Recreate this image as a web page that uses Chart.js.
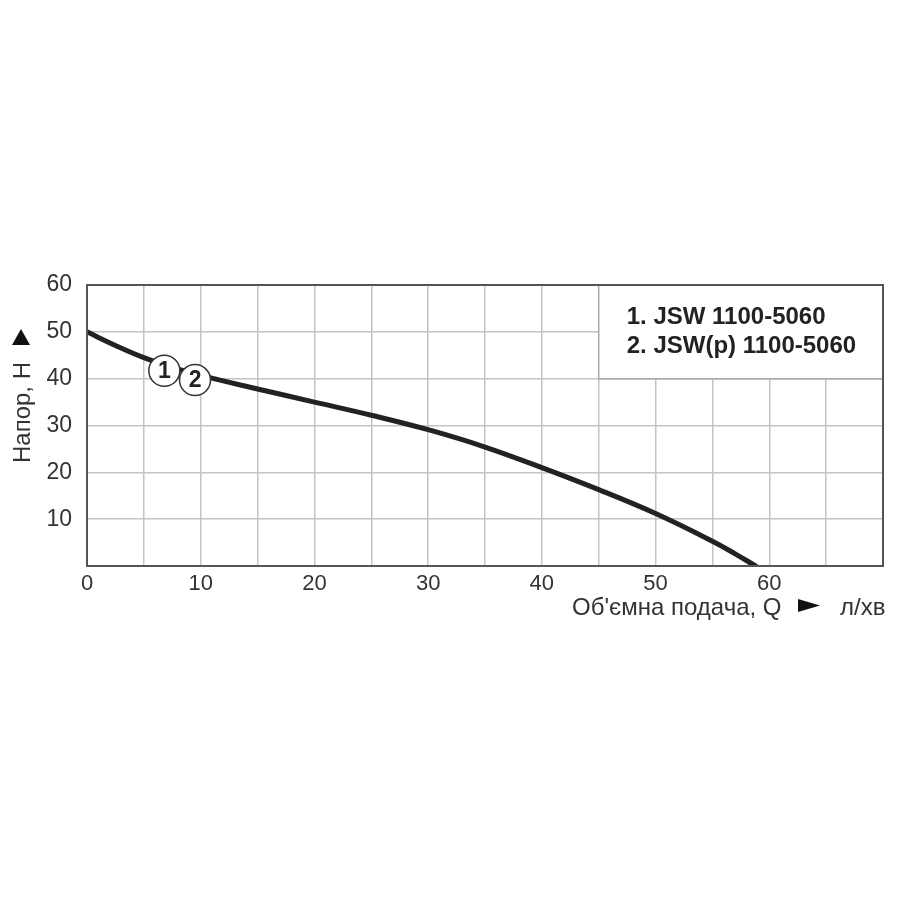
<!DOCTYPE html>
<html>
<head>
<meta charset="utf-8">
<script src="https://cdn.jsdelivr.net/npm/chart.js@4.4.0/dist/chart.umd.min.js"></script>
<style>
html,body{margin:0;padding:0;background:#fff;}
#wrap{width:900px;height:900px;position:relative;}
</style>
</head>
<body>
<div id="wrap"><canvas id="c" width="900" height="900"></canvas></div>
<script>
// ---- data ----
const flowQ = [0, 2.5, 5, 7.5, 10, 15, 20, 25, 30, 35, 40, 45, 50, 55, 57, 58.8];
const headH = [50, 47.1, 44.5, 42.4, 40.7, 37.8, 35, 32.2, 29.1, 25.4, 21.0, 16.3, 11.2, 5.3, 2.6, 0];
const markerQ = [6.8, 9.5];
const markerH = [41.7, 39.7];
const markerLabels = ['1', '2'];
const legendLines = ['1. JSW 1100-5060', '2. JSW(p) 1100-5060'];
const xTickLabels = [0, 10, 20, 30, 40, 50, 60];
const yTickLabels = [10, 20, 30, 40, 50, 60];
const yTitle = 'Напор, Н';
const xTitle = "Об'ємна подача, Q";
const xUnit = 'л/хв';
const legendBoxQ = [45, 70];
const legendBoxH = [40, 60];

const FONT = '"Liberation Sans", Arial, "DejaVu Sans", sans-serif';
const TXT = '#333333';

const overlay = {
  id: 'overlay',
  beforeDatasetsDraw(chart) {
    const {ctx, scales: {x, y}} = chart;
    const x0 = x.getPixelForValue(legendBoxQ[0]), x1 = x.getPixelForValue(legendBoxQ[1]);
    const y0 = y.getPixelForValue(legendBoxH[1]), y1 = y.getPixelForValue(legendBoxH[0]);
    ctx.save();
    ctx.fillStyle = '#ffffff';
    ctx.fillRect(x0, y0, x1 - x0, y1 - y0);
    ctx.strokeStyle = '#a8a8a8';
    ctx.lineWidth = 1.5;
    ctx.beginPath();
    ctx.moveTo(x0, y0); ctx.lineTo(x0, y1); ctx.lineTo(x1, y1);
    ctx.stroke();
    ctx.fillStyle = '#222222';
    ctx.font = 'bold 24px ' + FONT;
    ctx.textAlign = 'left';
    ctx.textBaseline = 'middle';
    legendLines.forEach((t, i) => ctx.fillText(t, x0 + 28, y0 + 32 + i * 29));
    ctx.restore();
  },
  afterDatasetsDraw(chart) {
    const {ctx, scales: {x, y}} = chart;
    ctx.save();
    ctx.fillStyle = '#222222';
    ctx.font = 'bold 23px ' + FONT;
    ctx.textAlign = 'center';
    ctx.textBaseline = 'middle';
    markerLabels.forEach((t, i) => {
      ctx.fillText(t, x.getPixelForValue(markerQ[i]), y.getPixelForValue(markerH[i]) + 1);
    });
    ctx.restore();
  },
  afterDraw(chart) {
    const {ctx, chartArea: a} = chart;
    ctx.save();
    // frame
    ctx.strokeStyle = '#555555';
    ctx.lineWidth = 2;
    ctx.strokeRect(a.left, a.top, a.right - a.left, a.bottom - a.top);
    // y title
    ctx.fillStyle = TXT;
    ctx.font = '24px ' + FONT;
    ctx.save();
    ctx.translate(a.left - 57, a.bottom - 103);
    ctx.rotate(-Math.PI / 2);
    ctx.textAlign = 'left';
    ctx.textBaseline = 'alphabetic';
    ctx.fillText(yTitle, 0, 0);
    ctx.restore();
    ctx.fillStyle = '#111111';
    ctx.beginPath();
    ctx.moveTo(a.left - 75, a.bottom - 221);
    ctx.lineTo(a.left - 57, a.bottom - 221);
    ctx.lineTo(a.left - 66, a.bottom - 237);
    ctx.closePath();
    ctx.fill();
    // x title
    ctx.fillStyle = TXT;
    ctx.font = '24px ' + FONT;
    ctx.textAlign = 'left';
    ctx.textBaseline = 'alphabetic';
    ctx.fillText(xTitle, 572, a.bottom + 49);
    ctx.fillText(xUnit, 840, a.bottom + 49);
    ctx.fillStyle = '#111111';
    ctx.beginPath();
    ctx.moveTo(798, a.bottom + 33); ctx.lineTo(798, a.bottom + 46); ctx.lineTo(820, a.bottom + 39.5); ctx.closePath();
    ctx.fill();
    ctx.restore();
  }
};

new Chart(document.getElementById('c'), {
  type: 'scatter',
  data: {
    datasets: [
      {
        type: 'line',
        data: flowQ.map((q, i) => ({x: q, y: headH[i]})),
        borderColor: '#222222',
        borderWidth: 5,
        pointRadius: 0,
        tension: 0.4,
        borderCapStyle: 'round',
        fill: false,
        order: 2
      },
      {
        type: 'scatter',
        data: markerQ.map((q, i) => ({x: q, y: markerH[i]})),
        pointRadius: 15.5,
        pointBackgroundColor: '#ffffff',
        pointBorderColor: '#333333',
        pointBorderWidth: 1.5,
        order: 1
      }
    ]
  },
  options: {
    responsive: false,
    animation: false,
    events: [],
    layout: {padding: {left: 0, top: 285, right: 15, bottom: 294}},
    plugins: {legend: {display: false}, tooltip: {enabled: false}},
    scales: {
      x: {
        type: 'linear',
        min: 0, max: 70,
        afterFit(s) { s.height = 40; },
        border: {display: false},
        grid: {color: '#c4c4c4', lineWidth: 1.5, drawTicks: false},
        ticks: {
          stepSize: 5,
          autoSkip: false,
          maxRotation: 0,
          padding: 5,
          color: TXT,
          font: {size: 22, family: FONT},
          callback: (v) => xTickLabels.includes(v) ? String(v) : ''
        }
      },
      y: {
        type: 'linear',
        min: 0, max: 60,
        afterFit(s) { s.width = 87; },
        border: {display: false},
        grid: {color: '#c4c4c4', lineWidth: 1.5, drawTicks: false},
        ticks: {
          stepSize: 10,
          padding: 15,
          color: TXT,
          font: {size: 23, family: FONT},
          callback: (v) => yTickLabels.includes(v) ? String(v) : ''
        }
      }
    }
  },
  plugins: [overlay]
});
</script>
</body>
</html>
